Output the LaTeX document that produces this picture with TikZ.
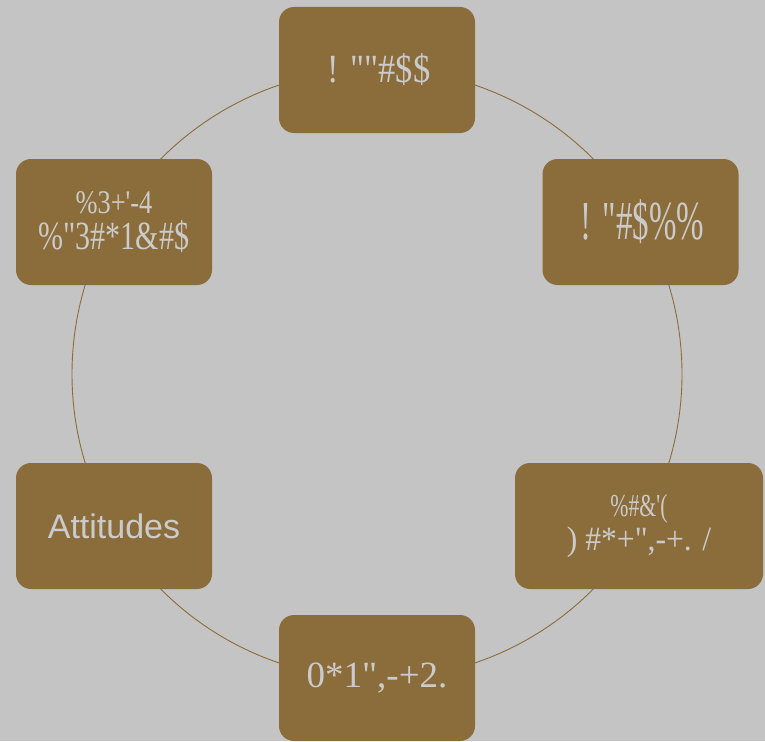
\documentclass[tikz,border=0pt]{standalone}
\usepackage{fontspec}
\newfontfamily\gfont{Liberation Serif}
\newfontfamily\sfont{Liberation Sans}
\definecolor{bg}{HTML}{C4C4C4}
\definecolor{boxc}{HTML}{8B6D3B}
\definecolor{txt}{HTML}{CBCBCB}
\newcommand{\gl}[3]{\scalebox{#2}[1]{\gfont\fontsize{#1}{#1}\selectfont #3}}
\begin{document}
\begin{tikzpicture}[x=1pt,y=-1pt,
  cbox/.style={fill=boxc, rounded corners=15pt, minimum width=196pt, minimum height=126pt,
    inner sep=0pt, text=txt, align=center},
  ring/.style={draw=boxc, line width=0.9pt}]
\fill[bg] (0,0) rectangle (765,741);
\useasboundingbox (0,0) rectangle (765,741);
\coordinate (c) at (377,374);
\draw[ring] (c) circle[radius=305pt];
\node[cbox] (n1) at (377,70) {\hspace*{4pt}\gl{40}{0.86}{! ""\#\$\$}};
\node[cbox] (n2) at (640.5,222) {\hspace*{4pt}\gl{55}{0.6}{! "\#\$\%\%}};
\node[cbox, minimum width=248pt] (n3) at (639,526) {\raisebox{-4pt}{\begin{tabular}{@{}c@{}}\gl{32}{0.68}{\%\#\&'(}\\[6pt]\gl{34}{0.93}{) \#*+",-+. /}\end{tabular}}};
\node[cbox] (n4) at (377,678) {\gl{37}{1.0}{0*1",-+2.}};
\node[cbox] (n5) at (114,526) {\sfont\fontsize{34}{34}\selectfont Attitudes};
\node[cbox] (n6) at (114,222) {\gl{33}{0.8}{\%3+'-4}\\[6pt]\gl{40}{0.75}{\%"3\#*1\&\#\$}};
\end{tikzpicture}
\end{document}
